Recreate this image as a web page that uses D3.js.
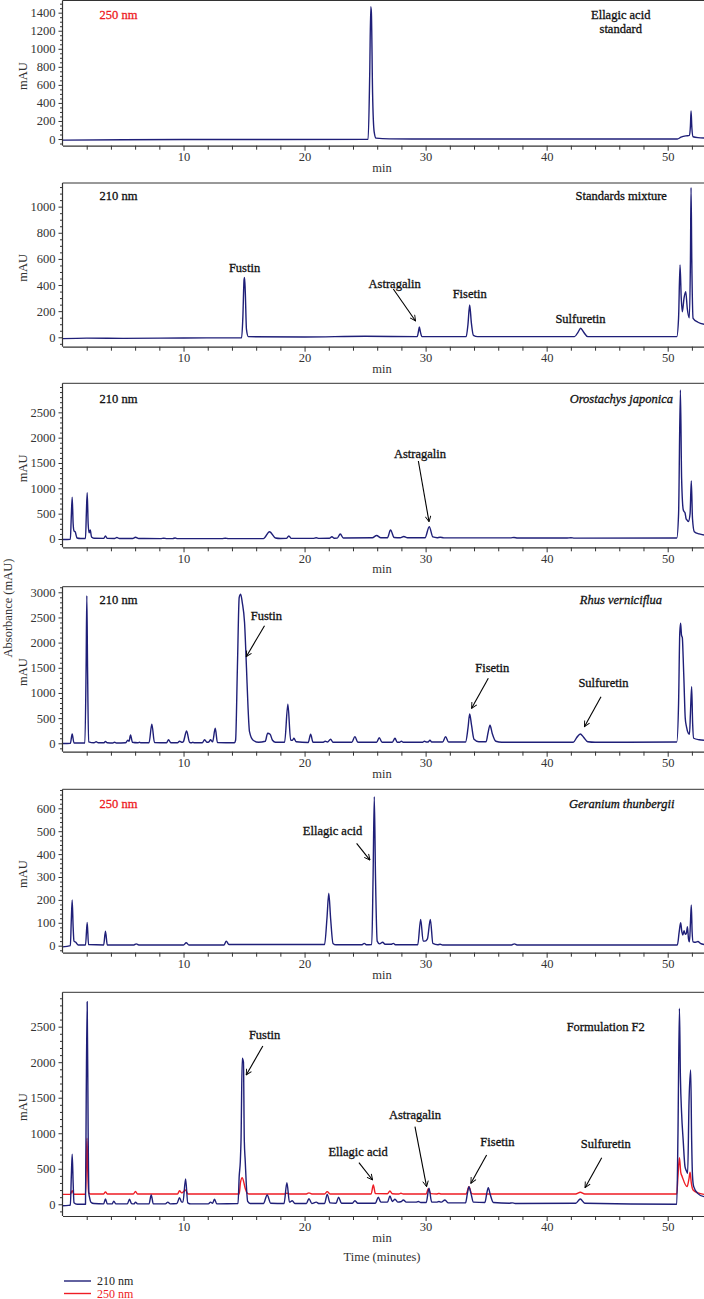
<!DOCTYPE html>
<html><head><meta charset="utf-8">
<script src="https://cdnjs.cloudflare.com/ajax/libs/d3/7.8.5/d3.min.js"></script>
<style>
body{margin:0;background:#fff}
svg{display:block}
text{font-family:"Liberation Serif","Times New Roman",serif}
</style></head>
<body><svg id="chart" width="704" height="1299"></svg>
<script>
// ---------------- DATA (time in min, absorbance in mAU) ----------------
const timeMajorTicks = [10, 20, 30, 40, 50];
const timeMinorTicks = [2,4,6,8,12,14,16,18,22,24,26,28,32,34,36,38,42,44,46,48,52];

const ellagicStd250 = [[0,-12],[5,-8],[10,-6],[25.25,-4],[25.38,700],[25.47,1465],[25.52,1400],[25.62,500],[25.75,80],[25.9,10],[27,2],[30,0],[40,0],[50.8,0],[51.1,20],[51.5,35],[51.8,40],[51.88,150],[51.93,310],[52.0,120],[52.1,25],[52.5,15],[53,12]];

const standardsMix210 = [[0,-10],[2,-6],[5,-8],[10,-5],[14.8,-3],[14.9,150],[15.0,440],[15.04,459],[15.1,350],[15.2,60],[15.35,5],[20,2],[25,8],[29.3,5],[29.42,50],[29.48,80],[29.56,45],[29.7,5],[33.35,5],[33.5,100],[33.64,247],[33.78,110],[33.95,15],[34.3,5],[42.3,5],[42.6,40],[42.81,69],[43.05,40],[43.4,5],[50.75,5],[50.9,150],[51.02,553],[51.12,300],[51.21,196],[51.35,300],[51.49,349],[51.62,220],[51.79,150],[51.88,600],[51.93,1146],[51.99,600],[52.1,145],[52.5,115],[53,100]];

const orostachys210 = [[0,-10],[0.65,-5],[0.72,400],[0.8,823],[0.88,300],[0.95,160],[1.05,140],[1.2,20],[1.5,10],[1.9,10],[1.97,500],[2.04,914],[2.12,300],[2.2,120],[2.29,178],[2.4,40],[2.6,15],[3.4,12],[3.55,59],[3.7,12],[4.3,10],[4.49,30],[4.7,10],[5.8,10],[6.03,35],[6.3,10],[8.1,8],[8.37,15],[8.6,8],[9.1,8],[9.31,20],[9.5,8],[13.2,8],[13.45,15],[13.7,8],[16.6,8],[17.1,144],[17.6,20],[18.0,10],[18.5,12],[18.7,60],[18.9,12],[20.7,12],[20.96,25],[21.2,12],[22.05,15],[22.26,45],[22.45,15],[22.7,18],[22.95,99],[23.2,20],[25.6,25],[25.95,70],[26.3,25],[26.85,25],[27.1,178],[27.4,30],[27.9,25],[28.2,50],[28.5,25],[29.95,25],[30.3,243],[30.6,40],[30.95,25],[31.2,35],[31.5,22],[37.0,22],[37.3,30],[37.6,20],[41.7,20],[42.0,25],[42.3,18],[50.75,20],[50.9,500],[51.05,2941],[51.15,1200],[51.29,572],[51.36,540],[51.43,520],[51.52,400],[51.6,375],[51.71,344],[51.85,500],[51.95,1145],[52.05,400],[52.2,144],[52.6,100],[53,79]];

const rhus210 = [[0,-5],[0.65,0],[0.8,185],[0.95,5],[1.85,5],[1.95,1500],[2.01,2933],[2.07,1500],[2.16,30],[2.6,10],[2.78,30],[2.95,10],[3.4,10],[3.55,35],[3.7,10],[4.15,5],[4.3,20],[4.45,5],[5.2,10],[5.4,60],[5.5,40],[5.62,165],[5.78,20],[6.2,10],[6.36,20],[6.5,10],[7.15,10],[7.38,377],[7.6,15],[8.6,10],[8.76,70],[8.95,10],[9.5,10],[9.67,40],[9.9,20],[10.0,40],[10.25,245],[10.5,20],[10.65,10],[10.77,20],[10.9,10],[11.55,10],[11.74,70],[11.95,20],[12.1,30],[12.23,70],[12.4,30],[12.62,298],[12.8,15],[14.2,10],[14.3,60],[14.45,1500],[14.6,2900],[14.72,2960],[14.85,2800],[15.04,2400],[15.2,1500],[15.32,760],[15.45,230],[15.75,60],[16.2,20],[16.75,40],[16.95,200],[17.15,180],[17.35,60],[17.6,20],[18.35,20],[18.62,775],[18.85,60],[19.0,60],[19.12,100],[19.3,30],[20.3,15],[20.5,179],[20.7,20],[21.5,20],[21.7,40],[21.9,25],[22.15,80],[22.35,20],[23.9,20],[24.16,132],[24.4,20],[25.95,20],[26.17,112],[26.4,20],[27.25,20],[27.47,100],[27.65,20],[27.85,20],[28.0,40],[28.15,20],[29.75,20],[29.9,40],[30.05,25],[30.2,25],[30.36,60],[30.5,25],[31.4,25],[31.65,130],[31.9,25],[33.3,25],[33.5,300],[33.64,582],[33.8,350],[34.0,80],[34.4,30],[35.0,30],[35.15,200],[35.32,357],[35.5,200],[35.8,40],[36.3,20],[42.2,20],[42.5,120],[42.78,185],[43.05,120],[43.4,30],[44,20],[50.75,25],[50.9,800],[51.0,2200],[51.07,2384],[51.14,2150],[51.21,2099],[51.28,1700],[51.35,1200],[51.45,500],[51.55,330],[51.7,200],[51.8,180],[51.88,600],[51.98,1125],[52.06,400],[52.15,100],[52.6,70],[53,60]];

const geranium250 = [[0,-5],[0.65,0],[0.72,100],[0.8,200],[0.88,80],[0.95,20],[1.1,15],[1.3,3],[1.9,3],[2.04,102],[2.15,5],[3.4,3],[3.55,63],[3.7,3],[5.9,3],[6.09,8],[6.3,3],[10.0,3],[10.22,13],[10.45,3],[13.35,3],[13.53,20],[13.75,5],[21.65,5],[21.85,120],[22.0,229],[22.15,120],[22.35,10],[22.6,4],[24.75,4],[24.93,10],[25.1,4],[25.55,5],[25.66,300],[25.76,651],[25.86,300],[26.0,20],[26.2,8],[26.45,15],[26.65,6],[27.15,6],[27.33,10],[27.5,4],[29.35,4],[29.59,115],[29.8,20],[29.95,20],[30.15,30],[30.39,115],[30.6,10],[31.0,4],[31.2,6],[31.4,3],[37.1,3],[37.33,8],[37.55,3],[50.8,3],[50.95,60],[51.07,100],[51.17,60],[51.25,47],[51.35,66],[51.45,50],[51.55,55],[51.63,83],[51.72,30],[51.8,17],[51.88,100],[51.95,178],[52.02,60],[52.1,17],[52.3,15],[52.5,18],[52.7,10],[53,5]];

const formulationF2_210 = [[0,-20],[0.5,-15],[0.65,-10],[0.73,400],[0.8,704],[0.88,300],[0.95,20],[1.2,0],[1.9,0],[1.96,1500],[2.04,2852],[2.12,1000],[2.18,150],[2.23,100],[2.35,30],[2.6,10],[3.4,5],[3.55,75],[3.7,5],[4.1,5],[4.24,45],[4.4,5],[5.35,5],[5.54,70],[5.7,10],[5.9,5],[6.03,30],[6.2,5],[7.15,5],[7.33,131],[7.5,5],[8.5,5],[8.7,30],[8.9,5],[9.45,10],[9.67,93],[9.85,30],[9.95,30],[10.17,356],[10.35,20],[10.6,5],[12.05,5],[12.23,30],[12.4,15],[12.56,70],[12.75,5],[14.5,10],[14.6,400],[14.69,600],[14.75,900],[14.85,2055],[14.95,2000],[15.02,900],[15.1,600],[15.18,300],[15.3,40],[15.5,10],[16.6,10],[16.91,131],[17.2,15],[18.3,10],[18.54,304],[18.75,30],[18.98,50],[19.2,10],[20.15,10],[20.36,80],[20.6,10],[20.96,30],[21.2,10],[21.65,10],[21.87,140],[22.1,20],[22.6,15],[22.81,100],[23.05,15],[23.95,15],[24.16,50],[24.4,15],[25.85,15],[26.09,100],[26.3,30],[26.85,30],[27.05,117],[27.25,40],[27.47,70],[27.7,30],[27.95,35],[28.16,60],[28.4,30],[29.2,30],[29.4,40],[29.6,25],[30.05,25],[30.28,225],[30.5,30],[30.9,30],[31.1,40],[31.3,30],[31.6,60],[31.85,20],[33.3,20],[33.45,150],[33.58,248],[33.75,150],[33.95,30],[34.9,25],[35.05,150],[35.18,234],[35.35,130],[35.6,25],[36.9,15],[37.17,20],[37.4,12],[42.4,15],[42.78,75],[43.15,15],[50.75,0],[50.85,1000],[50.97,2759],[51.05,1800],[51.15,1281],[51.28,900],[51.43,529],[51.55,470],[51.65,436],[51.76,1422],[51.9,1890],[51.98,900],[52.05,400],[52.15,248],[52.5,150],[53,107]];

const formulationF2_250 = [[0,140],[0.65,140],[0.8,190],[0.95,142],[1.9,142],[1.96,500],[2.02,930],[2.08,500],[2.16,160],[2.3,145],[3.4,145],[3.55,175],[3.7,145],[5.85,145],[6.03,180],[6.2,145],[9.5,145],[9.67,190],[9.85,160],[10.17,200],[10.35,145],[14.6,145],[14.7,300],[14.85,375],[14.95,330],[15.1,220],[15.25,160],[15.45,145],[18.35,145],[18.54,155],[18.75,145],[20.15,145],[20.36,160],[20.6,145],[21.65,145],[21.87,178],[22.1,145],[25.5,145],[25.68,272],[25.85,150],[26.85,148],[27.05,187],[27.25,148],[27.8,145],[27.96,155],[28.15,145],[30.05,145],[30.22,220],[30.4,150],[30.9,145],[31.1,152],[31.3,145],[33.35,145],[33.58,248],[33.8,150],[34.0,145],[42.4,145],[42.78,169],[43.15,145],[50.75,145],[50.85,400],[50.97,656],[51.08,450],[51.2,389],[51.6,248],[51.75,350],[51.85,450],[51.95,300],[52.1,200],[52.5,160],[53,140]];

const yTicks1 = [0,200,400,600,800,1000,1200,1400];
const yTicks2 = [0,200,400,600,800,1000];
const yTicks3 = [0,500,1000,1500,2000,2500];
const yTicks4 = [0,500,1000,1500,2000,2500,3000];
const yTicks5 = [0,100,200,300,400,500,600];
const yTicks6 = [0,500,1000,1500,2000,2500];

const seriesNames = ["210 nm", "250 nm"];

// ---------------- LAYOUT / STYLE ----------------
const W = 704;
const BLUE = "#1f1f78", RED = "#ee1c24", AXIS = "#333";
const svg = d3.select("#chart");
const x = d3.scaleLinear().domain([0, 53]).range([62.5, 704]);

// annotations: label position and arrow (data coordinates)
const panels = [
  {top:0.5, bottom:145.7, yDom:[-74,1535], ticks:yTicks1, minor:50,
   series:[{d:ellagicStd250,c:BLUE}], wl:"250 nm", wlColor:RED,
   title:["Ellagic acid","standard"], titleAt:[46.12,1378], italic:false,
   notes:[]},
  {top:183, bottom:346.7, yDom:[-72,1181], ticks:yTicks2, minor:50,
   series:[{d:standardsMix210,c:BLUE}], wl:"210 nm", wlColor:"#111",
   title:["Standards mixture"], titleAt:[46.16,1082], italic:false,
   notes:[{t:"Fustin",at:[15.04,531]},
          {t:"Astragalin",at:[27.44,408],arrow:[[27.33,370],[29.17,125]]},
          {t:"Fisetin",at:[33.64,337]},
          {t:"Sulfuretin",at:[42.79,140]}]},
  {top:383.3, bottom:547.3, yDom:[-164,3073], ticks:yTicks3, minor:100,
   series:[{d:orostachys210,c:BLUE}], wl:"210 nm", wlColor:"#111",
   title:["Orostachys japonica"], titleAt:[46.17,2777], italic:true,
   notes:[{t:"Astragalin",at:[29.53,1691],arrow:[[29.40,1539],[30.28,341]]}]},
  {top:586.7, bottom:751.7, yDom:[-167,3111], ticks:yTicks4, minor:100,
   series:[{d:rhus210,c:BLUE}], wl:"210 nm", wlColor:"#111",
   title:["Rhus verniciflua"], titleAt:[46.14,2847], italic:true,
   notes:[{t:"Fustin",at:[16.84,2535],arrow:[[16.69,2337],[15.18,1721]]},
          {t:"Fisetin",at:[35.51,1510],arrow:[[35.18,1291],[33.8,695]]},
          {t:"Sulfuretin",at:[44.69,1204],arrow:[[44.49,926],[43.12,330]]}]},
  {top:789.3, bottom:952.7, yDom:[-30.6,683], ticks:yTicks5, minor:20,
   series:[{d:geranium250,c:BLUE}], wl:"250 nm", wlColor:RED,
   title:["Geranium thunbergii"], titleAt:[46.2,622], italic:true,
   notes:[{t:"Ellagic acid",at:[22.31,502],arrow:[[24.3,447],[25.4,374]]}]},
  {top:992.3, bottom:1216, yDom:[-165,2984], ticks:yTicks6, minor:100,
   series:[{d:formulationF2_250,c:RED},{d:formulationF2_210,c:BLUE}], wl:null,
   title:["Formulation F2"], titleAt:[44.88,2500], italic:false,
   notes:[{t:"Fustin",at:[16.69,2383],arrow:[[16.55,2229],[15.18,1820]]},
          {t:"Ellagic acid",at:[24.42,740],arrow:[[24.49,586],[25.62,342]]},
          {t:"Astragalin",at:[29.12,1257],arrow:[[29.12,1092],[30.08,248]]},
          {t:"Fisetin",at:[35.93,881],arrow:[[35.04,694],[33.74,296]]},
          {t:"Sulfuretin",at:[44.88,849],arrow:[[44.55,656],[43.17,234]]}]}
];

const defs = svg.append("defs");
defs.append("marker").attr("id","arr").attr("viewBox","0 0 10 10")
  .attr("refX",9).attr("refY",5).attr("markerWidth",7).attr("markerHeight",7)
  .attr("orient","auto").attr("markerUnits","userSpaceOnUse")
  .append("path").attr("d","M1,1 L9,5 L1,9").attr("fill","none").attr("stroke","#000").attr("stroke-width",1.3);

panels.forEach((p, i) => {
  const y = d3.scaleLinear().domain(p.yDom).range([p.bottom, p.top]);
  const g = svg.append("g");
  const cid = "clip" + i;
  defs.append("clipPath").attr("id", cid).append("rect")
    .attr("x", x(0)).attr("y", p.top).attr("width", W - x(0)).attr("height", p.bottom - p.top);

  // traces
  const line = d3.line().x(d => x(d[0])).y(d => y(d[1])).curve(d3.curveMonotoneX);
  p.series.forEach(s => {
    g.append("path").attr("d", line(s.d)).attr("fill","none")
      .attr("stroke", s.c).attr("stroke-width", 1.4).attr("stroke-linejoin","round")
      .attr("clip-path", `url(#${cid})`);
  });

  // frame top
  g.append("line").attr("x1", x(0)).attr("x2", W).attr("y1", p.top).attr("y2", p.top)
    .attr("stroke", AXIS).attr("stroke-width", 1);

  // y axis
  const minors = d3.range(Math.ceil(p.yDom[0]/p.minor)*p.minor, p.yDom[1], p.minor)
    .filter(v => !p.ticks.includes(v));
  const ya = g.append("g").attr("transform", `translate(${x(0)},0)`)
    .call(d3.axisLeft(y).tickValues(p.ticks).tickSize(4).tickPadding(3).tickSizeOuter(0).tickFormat(d3.format("d")));
  g.append("g").attr("transform", `translate(${x(0)},0)`)
    .call(d3.axisLeft(y).tickValues(minors).tickSize(2.5).tickFormat("").tickSizeOuter(0))
    .select(".domain").remove();
  ya.select(".domain").attr("d", `M0,${p.top}V${p.bottom}`);

  // x axis
  g.append("g").attr("transform", `translate(0,${p.bottom})`)
    .call(d3.axisBottom(x).tickValues(timeMajorTicks).tickSize(5).tickPadding(1.5).tickSizeOuter(0));
  g.append("g").attr("transform", `translate(0,${p.bottom})`)
    .call(d3.axisBottom(x).tickValues(timeMinorTicks).tickSize(4).tickFormat("").tickSizeOuter(0))
    .select(".domain").remove();

  g.selectAll(".domain").attr("stroke", AXIS).attr("stroke-width", 1.2);
  g.selectAll(".tick line").attr("stroke", AXIS);
  g.selectAll(".tick text").attr("fill", "#333").attr("font-size", 12.5)
    .attr("font-family", '"Liberation Serif","Times New Roman",serif');

  // axis titles
  g.append("text").attr("x", x(26.4)).attr("y", p.bottom + 26).attr("text-anchor","middle")
    .attr("font-size", 12.5).attr("fill","#333").text("min");
  g.append("text").attr("transform", `translate(27,${(p.top+p.bottom)/2 + 3}) rotate(-90)`)
    .attr("text-anchor","middle").attr("font-size", 12.5).attr("fill","#333").text("mAU");

  // wavelength tag
  if (p.wl) {
    g.append("text").attr("x", x(3.06)).attr("y", y(p.titleAt[1])).attr("dy","0.35em")
      .attr("font-size", 12.5).attr("fill", p.wlColor)
      .attr("stroke", p.wlColor).attr("stroke-width", 0.3).text(p.wl);
  }
  // sample title
  p.title.forEach((t, k) => {
    g.append("text").attr("x", x(p.titleAt[0]))
      .attr("y", y(p.titleAt[1]) + k * 14.3).attr("dy","0.35em")
      .attr("text-anchor","middle").attr("font-size", 12.5).attr("fill","#111")
      .attr("stroke","#111").attr("stroke-width",0.3)
      .attr("font-style", p.italic ? "italic" : "normal").text(t);
  });
  // compound annotations
  p.notes.forEach(n => {
    g.append("text").attr("x", x(n.at[0])).attr("y", y(n.at[1])).attr("dy","0.35em")
      .attr("text-anchor","middle").attr("font-size", 12.5).attr("fill","#111")
      .attr("stroke","#111").attr("stroke-width",0.3).text(n.t);
    if (n.arrow) {
      g.append("line").attr("x1", x(n.arrow[0][0])).attr("y1", y(n.arrow[0][1]))
        .attr("x2", x(n.arrow[1][0])).attr("y2", y(n.arrow[1][1]))
        .attr("stroke","#000").attr("stroke-width",1.1).attr("marker-end","url(#arr)");
    }
  });
});

// shared labels
svg.append("text").attr("transform", "translate(12,608) rotate(-90)")
  .attr("text-anchor","middle").attr("font-size", 12.5).attr("fill","#333").text("Absorbance (mAU)");
svg.append("text").attr("x", x(26.4)).attr("y", 1261).attr("text-anchor","middle")
  .attr("font-size", 12.5).attr("fill","#333").text("Time (minutes)");

// legend
const legend = svg.append("g");
[BLUE, RED].forEach((c, k) => {
  const yy = 1281 + k * 12.5;
  legend.append("line").attr("x1", 64).attr("x2", 91).attr("y1", yy).attr("y2", yy)
    .attr("stroke", c).attr("stroke-width", 1.4);
  legend.append("text").attr("x", 97).attr("y", yy + 4).attr("font-size", 12)
    .attr("fill", k === 0 ? "#222" : RED).text(seriesNames[k]);
});
</script>
</body></html>
